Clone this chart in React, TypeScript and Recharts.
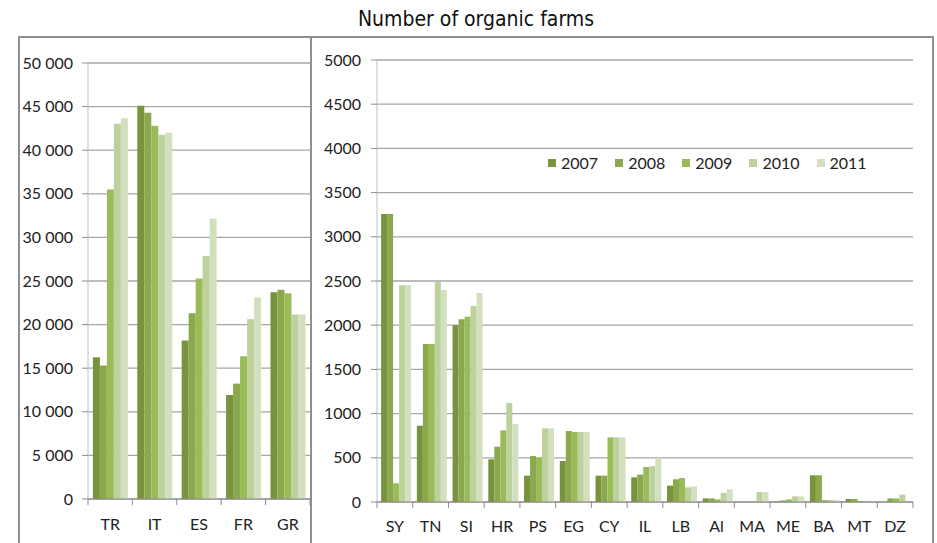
import React from 'react';
import { BarChart, Bar, XAxis, YAxis, CartesianGrid } from 'recharts';

const years = ['2007', '2008', '2009', '2010', '2011'];
const colors = ['#77933c', '#8ba84f', '#9bbb59', '#bcd19b', '#d3e0bf'];

// big producers (left panel)
const bigCountries = ['TR', 'IT', 'ES', 'FR', 'GR'];
const big2007 = [16260, 45110, 18180, 11930, 23700];
const big2008 = [15300, 44300, 21290, 13230, 24000];
const big2009 = [35480, 42800, 25280, 16380, 23600];
const big2010 = [43040, 41770, 27880, 20600, 21170];
const big2011 = [43650, 42000, 32180, 23100, 21170];
const bigTicks = [0, 5000, 10000, 15000, 20000, 25000, 30000, 35000, 40000, 45000, 50000];

// smaller countries (right panel)
const smallCountries = ['SY', 'TN', 'SI', 'HR', 'PS', 'EG', 'CY', 'IL', 'LB', 'Al', 'MA', 'ME', 'BA', 'MT', 'DZ'];
const small2007 = [3258, 863, 1999, 483, 298, 464, 298, 279, 185, 41, 0, 8, 302, 34, 0];
const small2008 = [3258, 1787, 2067, 626, 520, 803, 298, 309, 257, 41, 0, 18, 302, 34, 41];
const small2009 = [211, 1787, 2097, 811, 501, 792, 731, 396, 271, 30, 0, 30, 22, 10, 41];
const small2010 = [2451, 2489, 2217, 1120, 833, 792, 731, 404, 166, 102, 113, 64, 22, 8, 83];
const small2011 = [2451, 2398, 2364, 882, 833, 792, 731, 498, 177, 143, 113, 64, 20, 8, 0];
const smallTicks = [0, 500, 1000, 1500, 2000, 2500, 3000, 3500, 4000, 4500, 5000];

const buildRows = (cats: string[], series: number[][]) =>
  cats.map((c, i) => {
    const row: any = { name: c };
    years.forEach((y, k) => {
      row[y] = series[k][i];
    });
    return row;
  });

const bigData = buildRows(bigCountries, [big2007, big2008, big2009, big2010, big2011]);
const smallData = buildRows(smallCountries, [small2007, small2008, small2009, small2010, small2011]);

const FONT = 'Lato, "Open Sans", sans-serif';
const AXIS = '#8c8c8c';
const GRID = '#a6a6a6';

const spaced = (v: number) => String(v).replace(/\B(?=(\d{3})+(?!\d))/g, ' ');

// category label + tick marks on the category boundaries (Excel style)
const makeCatTick = (band: number, margin: number, count: number) => (props: any) => {
  const { x, y, payload, index } = props;
  const axisY = y - margin;
  return (
    <g>
      <line x1={x - band / 2} x2={x - band / 2} y1={axisY} y2={axisY + 6} stroke={AXIS} />
      {index === count - 1 && (
        <line x1={x + band / 2} x2={x + band / 2} y1={axisY} y2={axisY + 6} stroke={AXIS} />
      )}
      <text x={x} y={y} dy="0.71em" textAnchor="middle" fill="#222" fontSize={16} fontFamily={FONT}>
        {payload.value}
      </text>
    </g>
  );
};

const line = (style: React.CSSProperties) => (
  <div style={{ position: 'absolute', background: '#8f8f8f', ...style }} />
);

export default function App() {
  const bigW = 291;
  const smallW = 621;
  const h = 505;
  const bigBand = (bigW - 68 - 1) / bigCountries.length;
  const smallBand = (smallW - 65 - 20) / smallCountries.length;

  return (
    <div style={{ position: 'absolute', left: 0, top: 0, width: 937, height: 543, background: '#fff', overflow: 'hidden' }}>
      <div
        style={{
          position: 'absolute',
          left: 0,
          width: 937,
          top: 7,
          textAlign: 'center',
          fontFamily: '"DejaVu Sans Condensed", "DejaVu Sans", sans-serif',
          fontSize: 21,
          color: '#111',
          paddingLeft: 15,
          boxSizing: 'border-box',
        }}
      >
        Number of organic farms
      </div>

      {line({ left: 18, top: 36, width: 916, height: 2 })}
      {line({ left: 18, top: 36, width: 2, height: 507 })}
      {line({ left: 310, top: 36, width: 2, height: 507 })}
      {line({ left: 932, top: 36, width: 2, height: 507 })}

      <div style={{ position: 'absolute', left: 20, top: 38 }}>
        <BarChart
          width={bigW}
          height={h}
          data={bigData}
          margin={{ top: 25, right: 1, bottom: 0, left: 0 }}
          barCategoryGap="11%"
          barGap={0}
        >
          <CartesianGrid vertical={false} stroke={GRID} strokeWidth={1.3} />
          <XAxis
            dataKey="name"
            height={44}
            stroke={AXIS}
            tickLine={false}
            tickSize={0}
            tickMargin={20}
            interval={0}
            tick={makeCatTick(bigBand, 20, bigCountries.length)}
          />
          <YAxis
            width={68}
            domain={[0, 50000]}
            ticks={bigTicks}
            interval={0}
            stroke="#c0c0c0"
            tickSize={6}
            tickMargin={9}
            tickLine={{ stroke: AXIS }}
            tickFormatter={spaced}
            tick={{ fill: '#222', fontSize: 16, fontFamily: FONT }}
          />
          {years.map((y, k) => (
            <Bar key={y} dataKey={y} fill={colors[k]} isAnimationActive={false} />
          ))}
        </BarChart>
      </div>

      <div style={{ position: 'absolute', left: 312, top: 38 }}>
        <BarChart
          width={smallW}
          height={h}
          data={smallData}
          margin={{ top: 22, right: 20, bottom: 0, left: 0 }}
          barCategoryGap="11.5%"
          barGap={0}
        >
          <CartesianGrid vertical={false} stroke={GRID} strokeWidth={1.3} />
          <XAxis
            dataKey="name"
            height={41}
            stroke={AXIS}
            tickLine={false}
            tickSize={0}
            tickMargin={19}
            interval={0}
            tick={makeCatTick(smallBand, 19, smallCountries.length)}
          />
          <YAxis
            width={65}
            domain={[0, 5000]}
            ticks={smallTicks}
            interval={0}
            stroke="#c0c0c0"
            tickSize={6}
            tickMargin={10}
            tickLine={{ stroke: AXIS }}
            tick={{ fill: '#222', fontSize: 16, fontFamily: FONT }}
          />
          {years.map((y, k) => (
            <Bar key={y} dataKey={y} fill={colors[k]} isAnimationActive={false} />
          ))}
        </BarChart>
      </div>

      {/* legend */}
      <div
        style={{
          position: 'absolute',
          left: 548,
          top: 154,
          display: 'flex',
          fontFamily: FONT,
          fontSize: 16,
          lineHeight: '18px',
          color: '#222',
        }}
      >
        {years.map((y, k) => (
          <div key={y} style={{ display: 'flex', alignItems: 'center', marginRight: 17 }}>
            <span style={{ width: 8, height: 8, background: colors[k], marginRight: 5, display: 'inline-block' }} />
            <span>{y}</span>
          </div>
        ))}
      </div>
    </div>
  );
}
